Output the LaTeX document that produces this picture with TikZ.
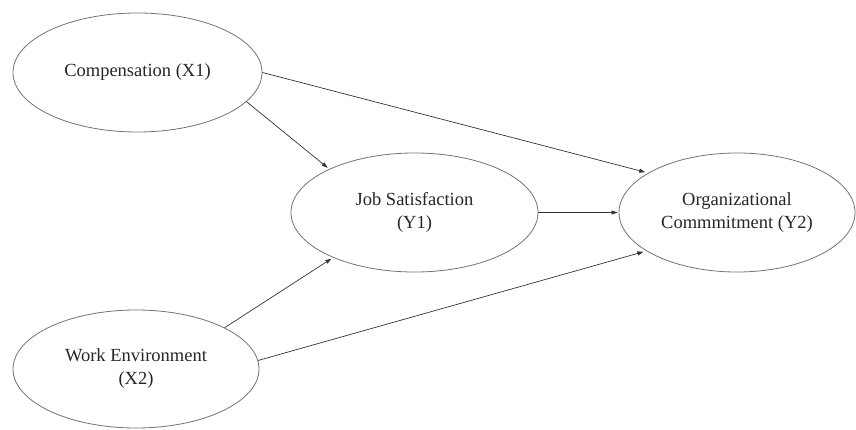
\documentclass[tikz,border=0pt]{standalone}
\usepackage{fontspec}
\setmainfont{Liberation Serif}
\usetikzlibrary{shapes.geometric,arrows.meta}
\begin{document}
\begin{tikzpicture}[x=1pt,y=1pt,
  construct/.style={ellipse,draw=black!55,line width=0.8pt,inner sep=0pt,
    align=center,font=\fontsize{18.5}{23}\selectfont,text=black!85},
  path/.style={draw=black!80,line width=0.7pt,-{Triangle[length=6pt,width=4pt]}}]
\useasboundingbox (0,0) rectangle (856,-430);
\node[construct,minimum width=249pt,minimum height=119pt] (x1) at (137.5,-72.5) {Compensation (X1)};
\node[construct,minimum width=247pt,minimum height=119pt] (y1) at (414.5,-212.5) {Job Satisfaction\\(Y1)};
\node[construct,minimum width=236pt,minimum height=119pt] (y2) at (737,-212.5) {Organizational\\Commmitment (Y2)};
\node[construct,minimum width=246pt,minimum height=118pt] (x2) at (136,-369) {Work Environment\\(X2)};
\draw[path,shorten >=2pt] (x1.-15) -- (y1.153);
\draw[path,shorten >=3pt] (x1.east) -- (y2.156);
\draw[path,shorten >=1pt] (y1.east) -- (y2.west);
\draw[path,shorten >=2pt] (x2.25) -- (y1.209);
\draw[path,shorten >=3pt] (x2.4) -- (y2.203);
\end{tikzpicture}
\end{document}
